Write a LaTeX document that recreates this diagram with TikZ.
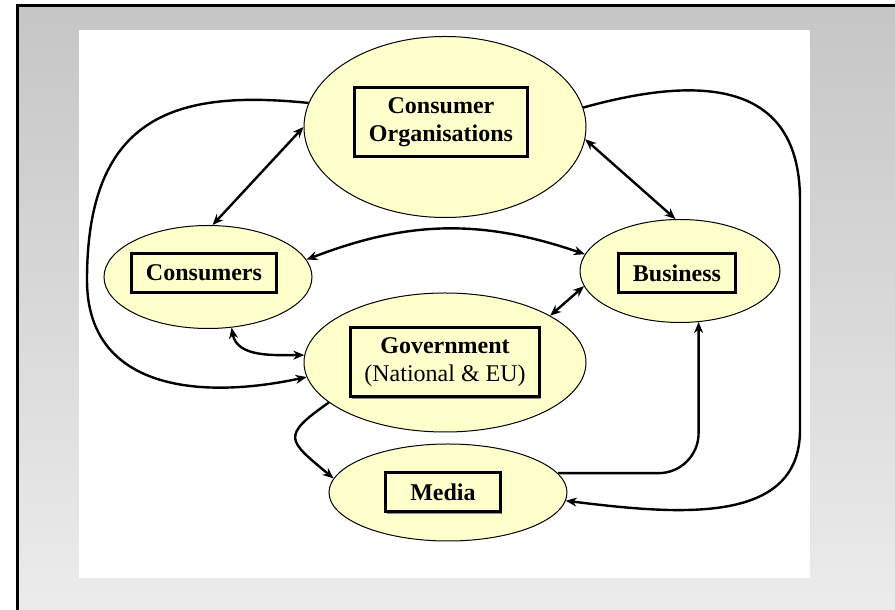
\documentclass[tikz,border=0pt]{standalone}
\usepackage{fontspec}
\setmainfont{Liberation Serif}
\usetikzlibrary{shapes.geometric, arrows.meta, shadows}
\definecolor{paleyellow}{HTML}{FFFFCC}
\tikzstyle{actor} = [ellipse, draw=black, line width=0.5pt, fill=paleyellow, inner sep=0pt]
\tikzstyle{namebox} = [rectangle, draw=black, line width=1.5pt, fill=paleyellow, align=center, font=\fontsize{12}{14}\selectfont\bfseries, inner xsep=7pt, inner ysep=5pt, minimum height=19.5pt, drop shadow={shadow xshift=0.8pt, shadow yshift=-0.8pt, fill=black!45, opacity=1}]
\tikzstyle{arrow} = [line width=1.2pt, >={Stealth[length=5.5pt, width=4.5pt]}]

\begin{document}
\begin{tikzpicture}[x=0.5pt, y=0.5pt]

    % Backdrop and white panel
    \useasboundingbox (0,0) rectangle (895,610);
    \shade [top color=gray!45, bottom color=gray!15] (17,0) rectangle (895,604);
    \draw [line width=1.5pt] (17,0) -- (17,604) -- (895,604);
    \fill [white] (79,32) rectangle (810,580);

    % Nodes
    \node (corg) [actor, minimum width=141pt, minimum height=90.5pt] at (445,483) {};
    \node (cons) [actor, minimum width=104pt, minimum height=51.5pt] at (208,333) {};
    \node (bus) [actor, minimum width=100pt, minimum height=51.5pt] at (680,339) {};
    \node (gov) [actor, minimum width=141pt, minimum height=69.5pt] at (445,247.5) {};
    \node (media) [actor, minimum width=119pt, minimum height=48.5pt] at (448,117.5) {};

    \node (corgname) [namebox, xshift=-2pt, yshift=2.5pt] at (corg) {Consumer\\Organisations};
    \node (consname) [namebox, xshift=-2pt, yshift=2pt] at (cons) {Consumers};
    \node (busname) [namebox, xshift=-1.5pt, yshift=-1pt] at (bus) {Business};
    \node (govname) [namebox] at (gov) {Government\\{\mdseries (National \& EU)}};
    \node (medianame) [namebox, minimum width=57.5pt, xshift=-2.5pt] at (media) {Media};

    % Arrows
    \draw [arrow, <->] (corg.west) -- (cons.85);
    \draw [arrow, <->] (corg.-5) -- (bus.95);
    \draw [arrow, <->] (cons.10) to[bend left=20] (bus.170);
    \draw [arrow, <->] (cons.-65) to[out=-80, in=180] (gov.177);
    \draw [arrow, <->] (gov.24) -- (bus.189);
    \draw [arrow, ->] (gov.199) to[out=215, in=140, looseness=2] (media.173);
    \draw [arrow, ->, rounded corners=20pt] (media.10) -| (bus.-70);

    % Outer loops
    \draw [arrow, ->] (corg.170) .. controls (180,520) and (87,498) .. (87,330)
        .. controls (87,220) and (200,210) .. (gov.186);
    \draw [arrow, ->] (corg.8) .. controls (700,535) and (800,530) .. (800,410)
        -- (800,180) .. controls (800,85) and (680,95) .. (media.-4);

\end{tikzpicture}
\end{document}
